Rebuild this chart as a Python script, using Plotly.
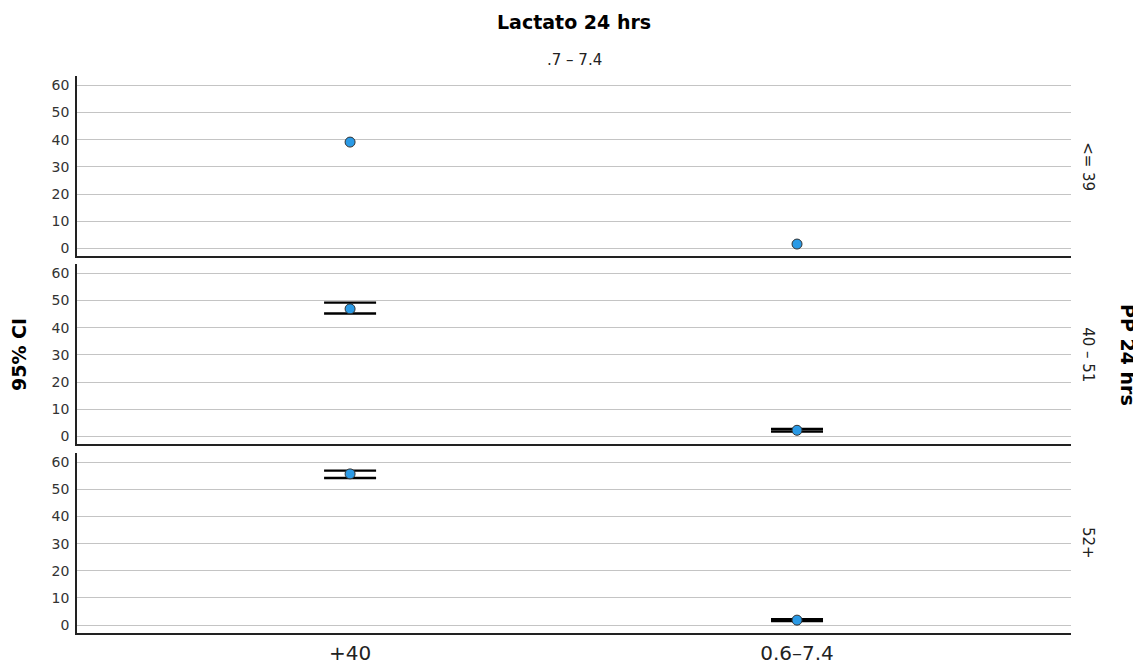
import plotly.graph_objects as go

# ---- data ----
categories = ["+40", "0.6–7.4"]
row_labels = ["<= 39", "40 – 51", "52+"]
means_row1 = [39.1, 1.6]
means_row2 = [46.9, 2.25]
lower_row2 = [45.2, 1.75]
upper_row2 = [49.2, 2.75]
means_row3 = [55.7, 1.84]
lower_row3 = [54.2, 1.5]
upper_row3 = [56.9, 2.2]
y_ticks = [0, 10, 20, 30, 40, 50, 60]

title_text = "Lactato 24 hrs"
col_label = ".7 – 7.4"
y_title = "95% CI"
row_title = "PP 24 hrs"

FONT = "DejaVu Sans"
MARK = "#2a9ae6"

fig = go.Figure()

rows = [
    (means_row1, None, None),
    (means_row2, lower_row2, upper_row2),
    (means_row3, lower_row3, upper_row3),
]
for i, (m, lo, up) in enumerate(rows):
    suffix = "" if i == 0 else str(i + 1)
    kw = {}
    if lo is not None:
        kw["error_y"] = dict(
            type="data", symmetric=False,
            array=[u - v for u, v in zip(up, m)],
            arrayminus=[v - l for v, l in zip(m, lo)],
            color="black", thickness=2.4, width=26,
        )
    fig.add_trace(go.Scatter(
        x=categories, y=m, mode="markers",
        marker=dict(size=10, color=MARK, line=dict(color="#333333", width=1)),
        xaxis="x" + suffix, yaxis="y" + suffix, showlegend=False,
        hoverinfo="x+y", **kw,
    ))

domains = [[0.6763, 1.0], [0.3388, 0.6625], [0.0, 0.3232]]
for i in range(3):
    suffix = "" if i == 0 else str(i + 1)
    fig.update_layout(**{
        "xaxis" + suffix: dict(
            type="category", range=[-0.611, 1.613],
            anchor="y" + suffix, domain=[0, 1],
            showgrid=False, zeroline=False, automargin=False,
            showline=True, linecolor="#222222", linewidth=1.5,
            showticklabels=(i == 2), ticks="",
            tickfont=dict(family=FONT, size=20, color="#222222"),
            ticklabelstandoff=1,
            matches="x" if i else None,
        ),
        "yaxis" + suffix: dict(
            range=[-2.9, 63.4], domain=domains[i],
            anchor="x" + suffix, automargin=False,
            tickvals=y_ticks,
            showgrid=True, gridcolor="#c4c4c4", gridwidth=1,
            zeroline=False,
            showline=True, linecolor="#222222", linewidth=1.5,
            ticks="", ticklabelstandoff=3,
            tickfont=dict(family=FONT, size=14, color="#333333"),
        ),
    })

ann = []
ann.append(dict(text="<b>%s</b>" % title_text, x=0.5, y=(633 - 21.5) / 557,
                xref="paper", yref="paper", showarrow=False,
                font=dict(family=FONT, size=19, color="black"),
                xanchor="center", yanchor="middle"))
ann.append(dict(text=col_label, x=0.5, y=(633 - 60) / 557,
                xref="paper", yref="paper", showarrow=False,
                font=dict(family=FONT, size=15, color="#222222"),
                xanchor="center", yanchor="middle"))
ann.append(dict(text="<b>%s</b>" % y_title, x=(19 - 77) / 994, y=(633 - 355) / 557,
                xref="paper", yref="paper", showarrow=False, textangle=-90,
                font=dict(family=FONT, size=19, color="black"),
                xanchor="center", yanchor="middle"))
ann.append(dict(text="<b>%s</b>" % row_title, x=(1128 - 77) / 994, y=(633 - 355) / 557,
                xref="paper", yref="paper", showarrow=False, textangle=90,
                font=dict(family=FONT, size=19, color="black"),
                xanchor="center", yanchor="middle"))
for i, lab in enumerate(row_labels):
    d = domains[i]
    ann.append(dict(text=lab, x=(1088 - 77) / 994, y=(d[0] + d[1]) / 2,
                    xref="paper", yref="paper", showarrow=False, textangle=90,
                    font=dict(family=FONT, size=15, color="#222222"),
                    xanchor="center", yanchor="middle"))

# the page body adds an 8px margin; compensate so the chart lands where the reference has it
fig.update_layout(
    width=1133, height=660,
    margin=dict(l=69, r=70, t=68, b=35, autoexpand=False),
    paper_bgcolor="white", plot_bgcolor="white",
    annotations=ann,
    font=dict(family=FONT),
)

fig.write_html("out.html")
